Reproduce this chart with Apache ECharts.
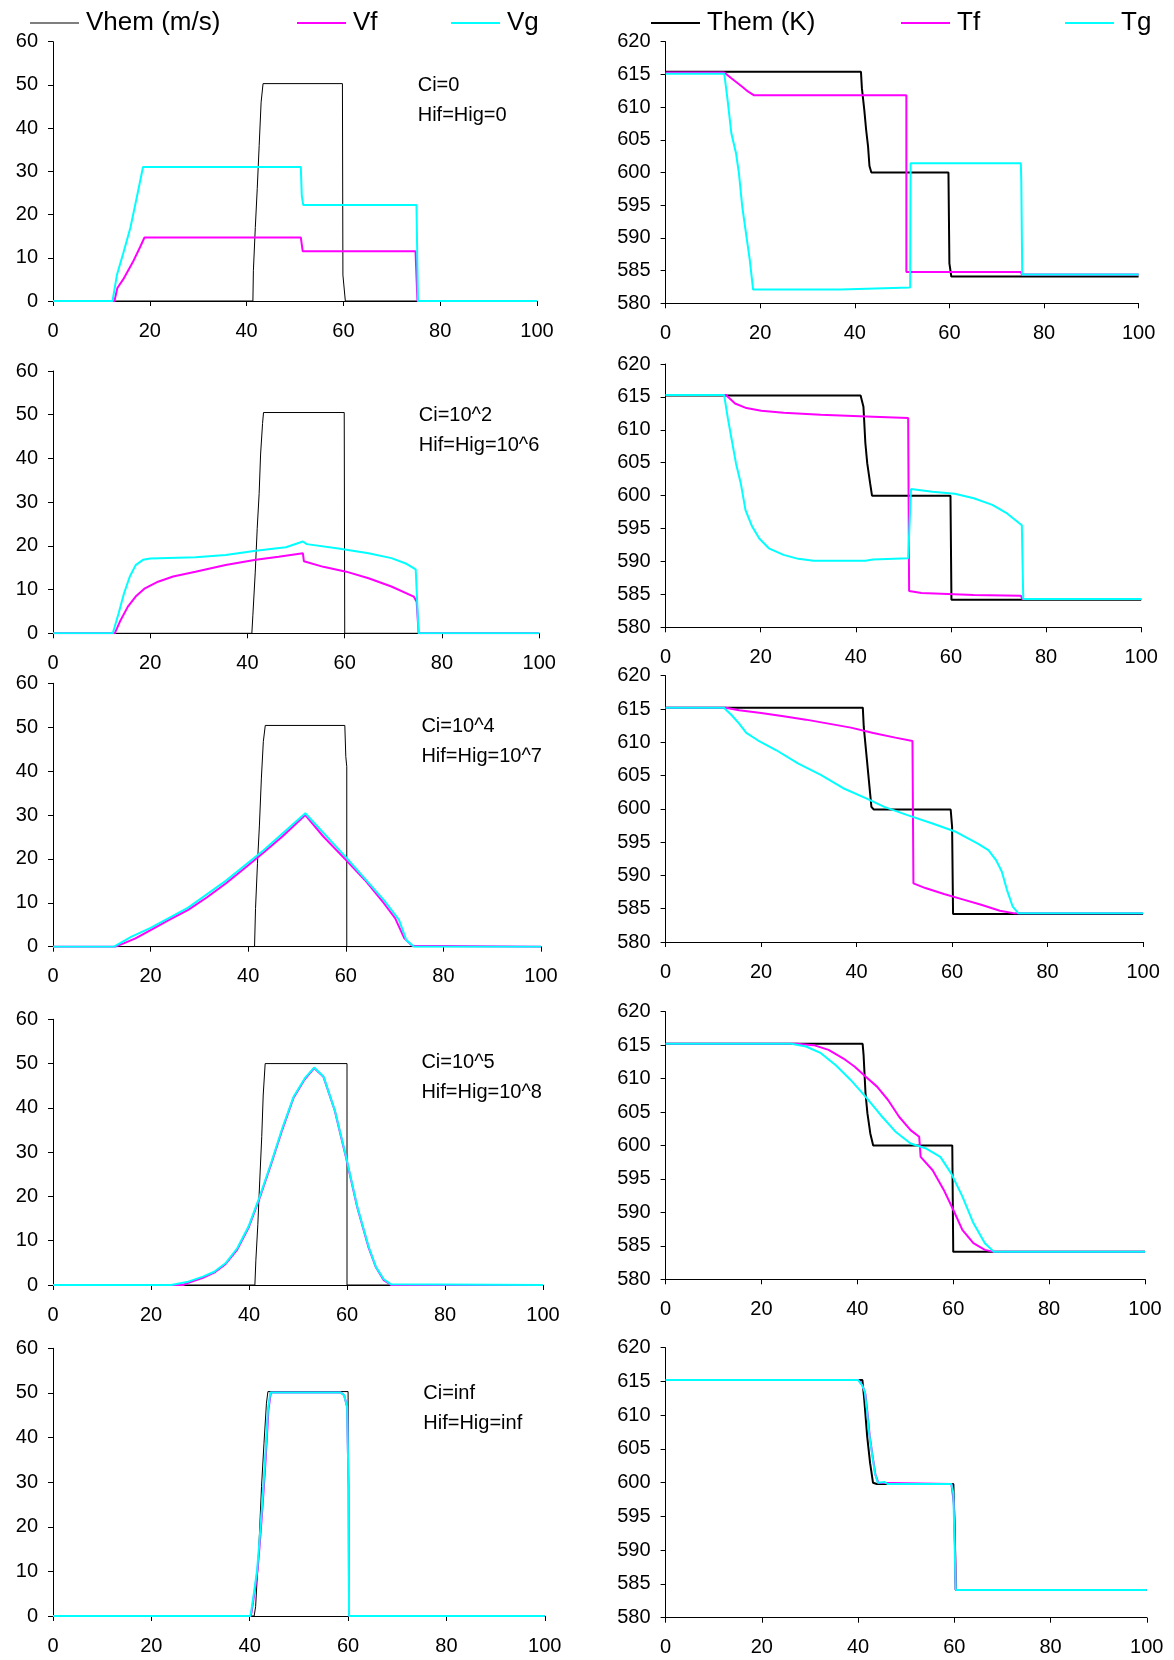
<!DOCTYPE html>
<html><head><meta charset="utf-8">
<script src="https://cdn.jsdelivr.net/npm/echarts@6/dist/echarts.min.js"></script>
<style>html,body{margin:0;padding:0;background:#fff}#c{width:1174px;height:1660px}</style>
</head><body><div id="c"></div>
<script>
// ---------- DATA (time on x) ----------
const xTicks = [0, 20, 40, 60, 80, 100];
const vTicks = [0, 10, 20, 30, 40, 50, 60];
const tTicks = [580, 585, 590, 595, 600, 605, 610, 615, 620];
const vNames = ['Vhem (m/s)', 'Vf', 'Vg'];
const tNames = ['Them (K)', 'Tf', 'Tg'];
const caseCi = ['Ci=0', 'Ci=10^2', 'Ci=10^4', 'Ci=10^5', 'Ci=inf'];
const caseH = ['Hif=Hig=0', 'Hif=Hig=10^6', 'Hif=Hig=10^7', 'Hif=Hig=10^8', 'Hif=Hig=inf'];

// Case 1
const p1Vhem = [[0,0],[41.3,0],[41.4,7],[41.8,17],[42.2,26],[42.6,36],[43.0,46],[43.4,50.3],[59.8,50.3],[59.9,6],[60.4,0],[100,0]];
const p1Vf = [[0,0],[12.7,0],[13.3,3],[14.5,5],[16.5,9],[18.0,12.5],[18.9,14.7],[51.2,14.7],[51.6,11.5],[74.9,11.5],[75.3,0],[100,0]];
const p1Vg = [[0,0],[12.3,0],[13.2,6],[14.5,11],[16,17],[17.5,25],[18.6,31],[51.2,31],[51.4,24.4],[51.7,22.2],[75.1,22.2],[75.4,0],[100,0]];
const p1Them = [[0,615.4],[41.3,615.4],[41.5,612.9],[42.0,609.6],[42.4,606.5],[42.8,604],[43.1,601],[43.5,600],[59.8,600],[60.0,586.1],[60.4,584.1],[100,584.1]];
const p1Tf = [[0,615.3],[12.4,615.3],[13.9,614.4],[16.2,613.1],[17.4,612.4],[18.7,611.8],[50.9,611.8],[50.9,584.8],[75.1,584.8],[75.3,584.4],[100,584.4]];
const p1Tg = [[0,615.1],[12.4,615.1],[13.1,611.1],[13.9,606],[14.9,602.9],[15.5,599.9],[16.2,594.8],[17.0,590.7],[17.8,586.6],[18.5,582.1],[37,582.1],[37.1,582.4],[51.7,582.4],[51.8,601.4],[75.1,601.4],[75.2,598.6],[75.4,584.4],[100,584.4]];
// Case 2
const p2Vhem = [[0,0],[40.9,0],[41.1,4],[41.6,14],[42.0,24],[42.4,32],[42.7,41],[43.1,48],[43.3,50.5],[59.9,50.5],[60.0,0],[100,0]];
const p2Vf = [[0,0],[12.7,0],[13.9,3.0],[15.4,6.1],[17.0,8.4],[18.9,10.3],[21.6,11.8],[24.7,13.0],[29.3,14.1],[35.5,15.6],[41.7,16.8],[46.4,17.5],[51.4,18.3],[51.6,16.5],[55.6,15.2],[60.3,14.1],[64.9,12.6],[69.6,10.7],[74.2,8.4],[74.8,7.2],[75.2,0],[100,0]];
const p2Vg = [[0,0],[12.3,0],[13.5,4.6],[14.6,9.1],[15.8,13.0],[17.0,15.6],[18.5,16.8],[20.0,17.1],[29.3,17.4],[35.5,17.9],[41.7,18.9],[47.9,19.7],[51.4,21.0],[52.2,20.4],[58.7,19.4],[64.9,18.3],[69.6,17.2],[72.7,15.9],[74.6,14.6],[75.2,0],[100,0]];
const p2Them = [[0,615.2],[41.0,615.2],[41.6,613.5],[42.0,608],[42.4,604.9],[43.0,601.9],[43.4,600],[59.9,600],[60.1,584.2],[100,584.2]];
const p2Tf = [[0,615.3],[12.7,615.3],[14.6,614.0],[17.0,613.3],[20.1,612.9],[24.8,612.6],[32.6,612.3],[43.6,612.0],[51.0,611.8],[51.2,585.5],[53.8,585.2],[64.8,584.9],[74.7,584.8],[75.0,584.3],[100,584.3]];
const p2Tg = [[0,615.3],[12.3,615.3],[13.1,611.7],[13.9,608.5],[14.8,604.9],[15.8,601.9],[16.8,597.8],[18.2,595.3],[19.7,593.5],[21.7,592.0],[24.8,591.0],[27.9,590.4],[31.1,590.1],[42.0,590.1],[43.6,590.3],[51.0,590.5],[51.6,601.0],[56.1,600.6],[60.8,600.3],[64.8,599.6],[68.7,598.6],[71.8,597.3],[74.9,595.5],[75.2,584.3],[100,584.3]];
// Case 3
const p3Vhem = [[0,0],[41.3,0],[41.5,8.7],[41.9,19],[42.3,27.7],[42.7,38.4],[43.1,46.7],[43.5,50.4],[59.8,50.4],[60.0,43.3],[60.2,41],[60.2,0],[100,0]];
const p3Vf = [[0,0],[12.7,0],[14.6,0.8],[16.9,1.9],[20.0,3.8],[23.8,6.1],[27.7,8.4],[31.5,11.2],[35.4,14.4],[39.2,17.8],[43.1,21.4],[47.0,25.1],[51.7,30.0],[55.4,25.1],[60.1,19.7],[63.9,15.2],[67.8,9.9],[70.1,6.5],[72.0,1.9],[73.6,0.2],[74.0,0],[100,0]];
const p3Vg = [[0,0],[12.5,0],[16.1,2.3],[20.0,4.3],[27.7,8.9],[35.4,15.0],[43.1,21.9],[51.7,30.4],[60.1,20.3],[67.8,10.6],[70.9,6.1],[72.4,1.5],[74.0,0],[100,0]];
const p3Them = [[0,615.2],[41.3,615.2],[41.5,612.3],[41.9,609.3],[42.3,606.3],[42.7,603.3],[43.1,600.3],[43.6,599.9],[59.7,599.9],[60.0,597.3],[60.2,584.2],[100,584.2]];
const p3Tf = [[0,615.2],[12.6,615.2],[15.4,614.8],[20.0,614.4],[24.7,613.9],[29.4,613.4],[34.1,612.8],[38.8,612.2],[43.5,611.4],[48.1,610.7],[51.7,610.2],[51.9,588.8],[54.4,588.1],[58.3,587.2],[62.2,586.4],[66.1,585.6],[70.0,584.7],[73.1,584.3],[100,584.3]];
const p3Tg = [[0,615.2],[12.2,615.2],[13.8,614.1],[15.4,612.8],[16.9,611.4],[19.3,610.3],[23.2,608.8],[27.8,606.8],[32.5,605.1],[37.2,603.1],[41.9,601.6],[45.8,600.3],[50.5,599.1],[55.9,597.8],[60.6,596.6],[65.3,594.8],[67.6,593.8],[69.2,592.3],[70.4,590.6],[71.5,587.8],[72.7,585.3],[73.9,584.3],[100,584.3]];
// Case 4
const p4Vhem = [[0,0],[41.2,0],[41.4,5.6],[41.8,13.6],[42.2,23.7],[42.6,33.5],[42.9,42.9],[43.3,50],[60.0,50],[60.0,0],[100,0]];
const p4Vf = [[0,0],[26.5,0],[27.6,0.5],[30.6,1.6],[32.9,2.8],[35.2,4.7],[37.6,8.0],[39.9,12.9],[42.2,19.7],[44.5,27.2],[46.8,35.1],[49.1,42.3],[51.4,46.5],[53.3,49.0],[55.2,47.0],[57.5,39.4],[59.8,28.8],[62.1,17.5],[64.4,8.5],[65.9,4.0],[67.5,1.1],[69.0,0],[100,0]];
const p4Vg = [[0,0],[24.1,0],[24.2,0.4],[27.6,0.75],[30.6,1.9],[32.9,3.0],[35.2,4.9],[37.6,8.3],[39.9,13.2],[42.2,20],[44.5,27.5],[46.8,35.4],[49.1,42.5],[51.4,46.7],[53.3,49.1],[55.2,47.1],[57.5,39.5],[59.8,29],[62.1,17.7],[64.4,8.7],[65.9,4.1],[67.5,1.3],[69.0,0.15],[69.4,0],[100,0]];
const p4Them = [[0,615.2],[41.1,615.2],[41.3,613.5],[41.7,607.8],[42.1,604.8],[42.7,601.8],[43.3,600],[59.8,600],[60.0,584.1],[100,584.1]];
const p4Tf = [[0,615.2],[27.3,615.2],[30.9,615.0],[34.0,614.3],[37.1,613.0],[39.4,611.8],[41.7,610.3],[44.1,608.8],[46.4,606.8],[48.7,604.3],[51.1,602.3],[52.9,601.3],[53.2,598.3],[55.7,596.3],[58.0,593.4],[60.0,590.4],[61.9,587.4],[64.2,585.4],[66.6,584.4],[68.5,584.1],[100,584.1]];
const p4Tg = [[0,615.2],[26.2,615.2],[29.3,614.8],[32.4,613.8],[35.5,612.0],[38.6,609.8],[41.7,607.3],[44.8,604.6],[47.9,602.1],[51.1,600.3],[54.2,599.6],[57.3,598.3],[59.6,595.8],[61.9,592.4],[64.2,588.4],[66.6,585.4],[68.5,584.1],[100,584.1]];
// Case 5
const p5Vhem = [[0,0],[40.9,0],[41.2,2.1],[41.8,14],[42.4,29],[42.9,38.7],[43.4,47.7],[43.7,50.3],[60.0,50.3],[60.2,0],[100,0]];
const p5Vf = [[0,0],[40.2,0],[40.4,1.0],[41.0,5.5],[41.6,10.3],[42.1,17],[42.6,24.5],[43.1,32.7],[43.5,40.2],[43.8,46.2],[44.3,50.1],[58.5,50.1],[59.2,49.5],[59.8,46.9],[60.1,29],[60.2,0],[100,0]];
const p5Vg = [[0,0],[40.1,0],[40.3,1.0],[40.9,5.5],[41.5,10.3],[42.0,17],[42.5,24.5],[43.0,32.7],[43.4,40.2],[43.7,46.2],[44.2,50.1],[58.5,50.1],[59.2,49.5],[59.8,46.9],[60.1,29],[60.2,0],[100,0]];
const p5Them = [[0,615.2],[40.9,615.2],[41.3,612.2],[41.9,606.8],[42.5,602.9],[43.1,600],[43.9,599.8],[59.8,599.8],[60.1,592.5],[60.3,584.1],[100,584.1]];
const p5Tf = [[0,615.2],[40.1,615.2],[40.9,614.4],[41.5,613.2],[42.0,610.0],[42.4,607.0],[43.0,604.0],[43.6,601.2],[44.2,600.0],[59.4,599.8],[59.9,597.0],[60.1,592.0],[60.3,584.1],[100,584.1]];
const p5Tg = [[0,615.2],[40.0,615.2],[40.8,614.5],[41.4,613.5],[41.9,610.3],[42.3,607.3],[42.9,604.3],[43.5,601.4],[44.1,600.0],[45.5,600.1],[46.2,599.8],[59.4,599.8],[59.8,598.4],[60.0,592.5],[60.3,584.1],[100,584.1]];

// ---------- LAYOUT ----------
const vSets = [[p1Vhem,p1Vf,p1Vg],[p2Vhem,p2Vf,p2Vg],[p3Vhem,p3Vf,p3Vg],[p4Vhem,p4Vf,p4Vg],[p5Vhem,p5Vf,p5Vg]];
const tSets = [[p1Them,p1Tf,p1Tg],[p2Them,p2Tf,p2Tg],[p3Them,p3Tf,p3Tg],[p4Them,p4Tf,p4Tg],[p5Them,p5Tf,p5Tg]];
const leftGrids = [
  {left:53, top:41.7, width:484, height:259.3},
  {left:53, top:371, width:486.2, height:262.3},
  {left:53, top:683.3, width:488, height:263.4},
  {left:53, top:1019.3, width:490, height:265.7},
  {left:53, top:1348.3, width:491.8, height:267.7}
];
const rightGrids = [
  {left:665.6, top:41.7, width:473, height:261.6},
  {left:665.6, top:364, width:475.6, height:263.3},
  {left:665.6, top:675.7, width:477.5, height:266.3},
  {left:665.6, top:1011.7, width:479.4, height:267.6},
  {left:665.6, top:1347.7, width:481.2, height:270}
];
const annoPos = [[417.7,86,116],[418.8,416,446],[421.4,727.7,757.7],[421.4,1063.3,1093.3],[423.3,1394,1424]];

const FONT = '"Liberation Sans", Arial, sans-serif';
const colors = ['#000000', '#FF00FF', '#00FFFF'];
const grids = [], xAxes = [], yAxes = [], series = [], graphics = [];

function addAxes(idx, isV) {
  xAxes.push({
    gridIndex: idx, type: 'value', min: xTicks[0], max: xTicks[xTicks.length-1], interval: 20,
    axisLine: {show: true, onZero: false, lineStyle: {color: '#000', width: 1}},
    axisTick: {show: true, length: 5, lineStyle: {color: '#000'}},
    axisLabel: {margin: 20, fontSize: 20, color: '#000', fontFamily: FONT},
    splitLine: {show: false}
  });
  const tk = isV ? vTicks : tTicks;
  yAxes.push({
    gridIndex: idx, type: 'value', min: tk[0], max: tk[tk.length-1], interval: isV ? 10 : 5,
    axisLine: {show: true, lineStyle: {color: '#000', width: 1}},
    axisTick: {show: true, length: 5, lineStyle: {color: '#000'}},
    axisLabel: {margin: 15, fontSize: 20, color: '#000', fontFamily: FONT},
    splitLine: {show: false}
  });
}

for (let r = 0; r < 5; r++) {
  let gi = grids.length;
  grids.push(leftGrids[r]);
  addAxes(gi, true);
  vSets[r].forEach((d, k) => {
    series.push({type: 'line', name: vNames[k], xAxisIndex: gi, yAxisIndex: gi, data: d,
      symbol: 'none', showSymbol: false, silent: true, animation: false,
      lineStyle: {color: colors[k], width: k === 0 ? 1 : 2}, itemStyle: {color: colors[k]}});
  });
  gi = grids.length;
  grids.push(rightGrids[r]);
  addAxes(gi, false);
  tSets[r].forEach((d, k) => {
    series.push({type: 'line', name: tNames[k], xAxisIndex: gi, yAxisIndex: gi, data: d,
      symbol: 'none', showSymbol: false, silent: true, animation: false,
      lineStyle: {color: colors[k], width: 2}, itemStyle: {color: colors[k]}});
  });
  const a = annoPos[r];
  graphics.push({type: 'text', left: a[0], top: a[1] - 11, silent: true,
    style: {text: caseCi[r], fontSize: 20, fontFamily: FONT, fill: '#000'}});
  graphics.push({type: 'text', left: a[0], top: a[2] - 11, silent: true,
    style: {text: caseH[r], fontSize: 20, fontFamily: FONT, fill: '#000'}});
}

const legendPos = [[30, vNames[0], 1], [297, vNames[1], 2], [451, vNames[2], 2],
                   [651, tNames[0], 2], [901, tNames[1], 2], [1065, tNames[2], 2]];
const legends = legendPos.map(p => ({
  data: [p[1]], left: p[0], top: 10, icon: 'rect', itemWidth: 49, itemHeight: p[2],
  itemGap: 0, selectedMode: false, padding: 0,
  textStyle: {fontSize: 26, color: '#000', fontFamily: FONT, padding: [0, 0, 0, 2]}
}));

const chart = echarts.init(document.getElementById('c'), null, {renderer: 'canvas'});
chart.setOption({
  animation: false,
  backgroundColor: '#fff',
  legend: legends,
  grid: grids,
  xAxis: xAxes,
  yAxis: yAxes,
  series: series,
  graphic: graphics
});
</script></body></html>
